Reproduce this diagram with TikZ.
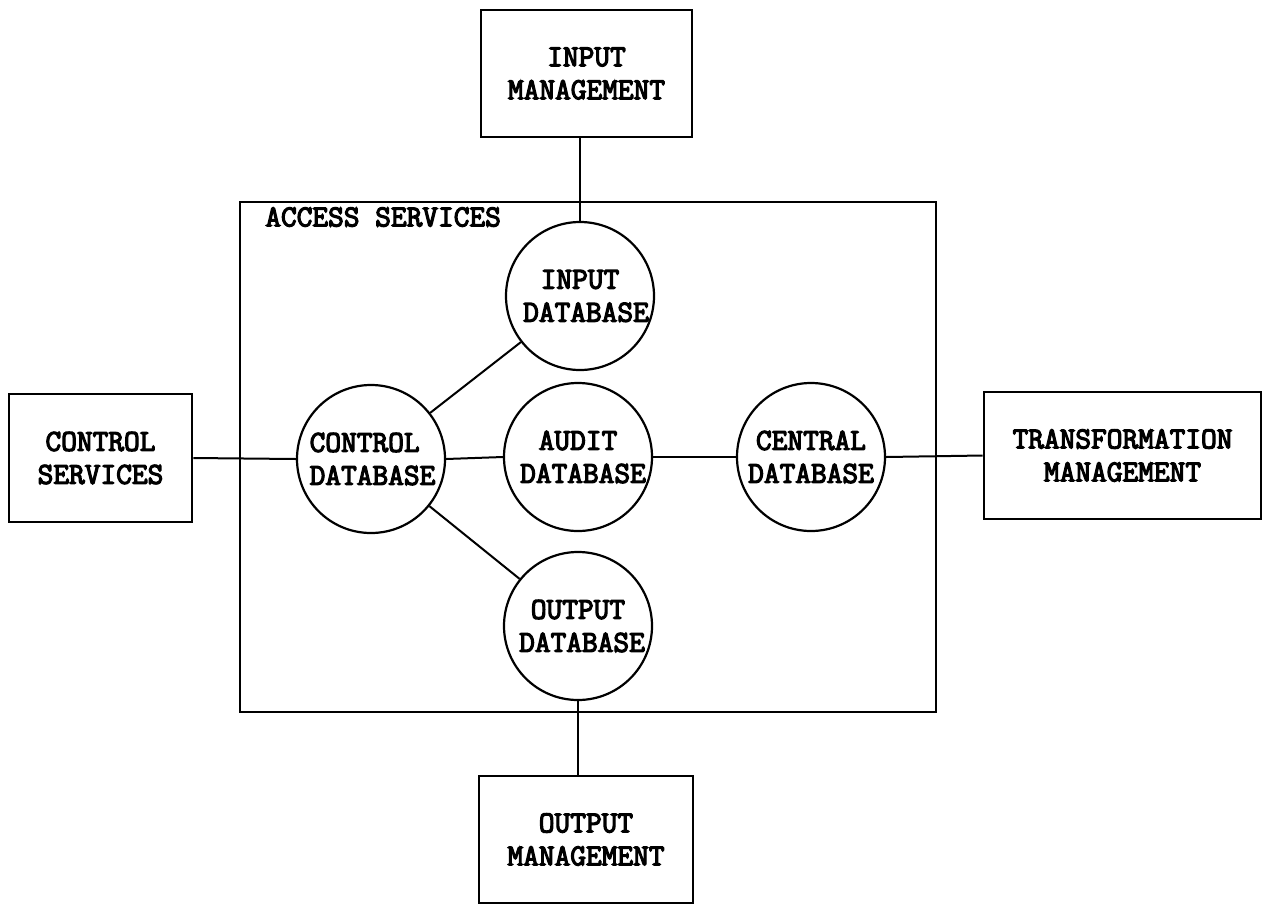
\documentclass[tikz,border=0pt]{standalone}
\usepackage{fontspec}
\newfontfamily\tw{Latin Modern Mono}[FakeBold=4]
\begin{document}
\begin{tikzpicture}[x=1pt,y=-1pt,
  line width=2.6pt,
  lbl/.style={font=\tw\fontsize{30.5}{33}\selectfont, align=center},
  unit/.style={lbl, draw, rectangle, inner sep=0pt},
  store/.style={lbl, draw, circle, inner sep=0pt, minimum size=148pt, line width=2.2pt},
  link/.style={line width=2pt}]
\useasboundingbox (0,0) rectangle (1265,908);

% enclosing access services boundary
\draw (240,202) rectangle (936,712);
\node[lbl, anchor=north west, inner sep=0pt] (acc) at (264,206) {ACCESS SERVICES};

% external units
\node[unit, minimum width=211pt, minimum height=127pt] (inmg) at (586.5,73.5) {INPUT\\MANAGEMENT};
\node[unit, minimum width=183pt, minimum height=128pt] (ctls) at (100.5,458) {CONTROL\\SERVICES};
\node[unit, minimum width=277pt, minimum height=127pt] (trans) at (1122.5,455.5) {TRANSFORMATION\\MANAGEMENT};
\node[unit, minimum width=214pt, minimum height=127pt] (outmg) at (586,839.5) {OUTPUT\\MANAGEMENT};

% databases
\node[store] (indb) at (580,296) {INPUT\\\hspace*{12pt}DATABASE};
\node[store, align=left] (ctldb) at (371,459) {\hspace*{3pt}CONTROL\\\hspace*{3pt}DATABASE};
\node[store] (auditdb) at (578,457) {AUDIT\\\hspace*{10pt}DATABASE};
\node[store] (centdb) at (811,457) {CENTRAL\\DATABASE};
\node[store] (outdb) at (578,626) {OUTPUT\\\hspace*{8pt}DATABASE};

% connectors
\draw[link] (indb.north) -- (indb.north |- inmg.south);
\draw[link] (outdb.south) -- (outdb.south |- outmg.north);
\draw[link] (ctls.east) -- (ctldb.west);
\draw[link] (ctldb) -- (indb);
\draw[link] (ctldb) -- (outdb);
\draw[link] (ctldb.east) -- (auditdb.west);
\draw[link] (auditdb.east) -- (centdb.west);
\draw[link] (centdb.east) -- (trans.west);
\end{tikzpicture}
\end{document}
